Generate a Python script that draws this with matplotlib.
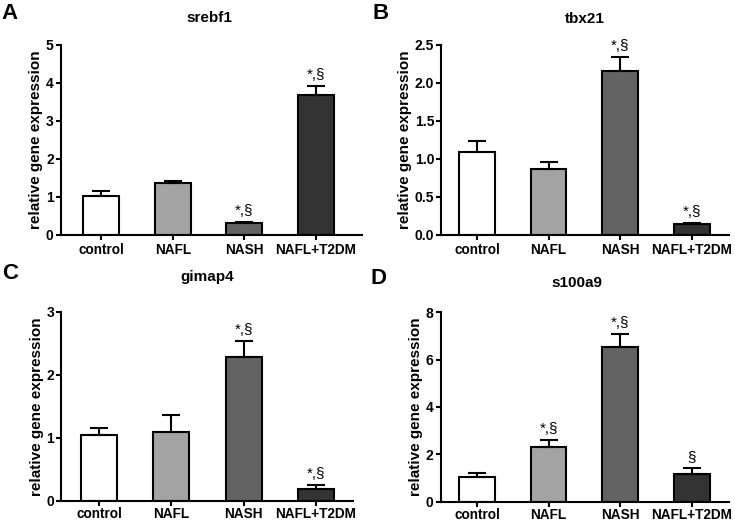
import numpy as np
import matplotlib
matplotlib.use("Agg")
import matplotlib.pyplot as plt

plt.rcParams['font.family'] = ['Liberation Sans', 'DejaVu Sans']
plt.rcParams['font.weight'] = 'bold'

groups = ['control', 'NAFL', 'NASH', 'NAFL+T2DM']
bar_colors = ['#ffffff', '#a3a3a3', '#636363', '#333333']

# panel data: mean and upper SEM end
srebf1_mean = [1.03, 1.36, 0.31, 3.67]
srebf1_top = [1.16, 1.42, 0.33, 3.92]
srebf1_marks = ['', '', '*,§', '*,§']

tbx21_mean = [1.085, 0.86, 2.16, 0.135]
tbx21_top = [1.23, 0.955, 2.34, 0.15]
tbx21_marks = ['', '', '*,§', '*,§']

gimap4_mean = [1.05, 1.09, 2.29, 0.19]
gimap4_top = [1.157, 1.366, 2.53, 0.246]
gimap4_marks = ['', '', '*,§', '*,§']

s100a9_mean = [1.05, 2.31, 6.55, 1.16]
s100a9_top = [1.19, 2.6, 7.09, 1.40]
s100a9_marks = ['', '*,§', '*,§', '§']

panels = [
    # letter, gene, mean, top, marks, axes rect, ymax, yticks, xlim, title pad/x, tick format, xtick pad
    ('A', 'srebf1', srebf1_mean, srebf1_top, srebf1_marks,
     [0.0826, 0.5504, 0.4095, 0.3634], 5, [0, 1, 2, 3, 4, 5], (-0.565, 3.64), 16.6, 0.493, '%d', 2.5),
    ('B', 'tbx21', tbx21_mean, tbx21_top, tbx21_marks,
     [0.6004, 0.5504, 0.3918, 0.3634], 2.5, [0, 0.5, 1.0, 1.5, 2.0, 2.5], (-0.5, 3.525), 16.0, 0.5, '%.1f', 2.5),
    ('C', 'gimap4', gimap4_mean, gimap4_top, gimap4_marks,
     [0.0834, 0.0404, 0.3965, 0.3624], 3, [0, 1, 2, 3], (-0.522, 3.51), 22.3, 0.5, '%d', 1.0),
    ('D', 's100a9', s100a9_mean, s100a9_top, s100a9_marks,
     [0.5996, 0.0391, 0.3922, 0.3626], 8, [0, 2, 4, 6, 8], (-0.507, 3.52), 18.4, 0.472, '%d', 1.0),
]

fig = plt.figure(figsize=(7.35, 5.22), dpi=100)

letter_pos = {'A': (1, 3), 'B': (372, 3), 'C': (2, 263), 'D': (371, 268)}

for letter, gene, mean, top, marks, rect, ymax, yticks, xlim, pad, tx, fmt, xpad in panels:
    ax = fig.add_axes(rect)
    x = np.arange(len(groups))
    mean = np.array(mean)
    up = np.array(top) - mean
    ax.bar(x, mean, width=0.5, color=bar_colors, edgecolor='black', linewidth=1.5, zorder=2)
    ax.errorbar(x, mean, yerr=[np.zeros_like(up), up], fmt='none', ecolor='black',
                elinewidth=1.5, capsize=6.8, capthick=1.5, zorder=3)
    for xi, t, m in zip(x, top, marks):
        if m:
            ax.annotate(m, (xi, t), xytext=(0, 3), textcoords='offset points',
                        ha='center', va='bottom', fontsize=11, fontweight='normal')
    ax.set_ylim(0, ymax)
    ax.set_xlim(*xlim)
    ax.set_yticks(yticks)
    ax.set_yticklabels([fmt % v for v in yticks], fontsize=10, fontweight='bold')
    ax.set_xticks(x)
    ax.set_xticklabels(groups, fontsize=9.8, fontweight='bold')
    ax.tick_params(axis='x', length=3.4, width=1.5, pad=xpad)
    ax.tick_params(axis='y', length=3.6, width=1.5, pad=1.5)
    for s in ['top', 'right']:
        ax.spines[s].set_visible(False)
    for s in ['left', 'bottom']:
        ax.spines[s].set_linewidth(1.5)
    ax.set_ylabel('relative gene expression', fontsize=11, fontweight='bold', labelpad=2)
    ax.set_title(gene, fontsize=11, fontweight='bold', pad=pad, x=tx)
    lx, ly = letter_pos[letter]
    fig.text(lx / 735, 1 - ly / 522, letter, fontsize=16, fontweight='bold', ha='left', va='top')

fig.savefig('out.png', dpi=100)
